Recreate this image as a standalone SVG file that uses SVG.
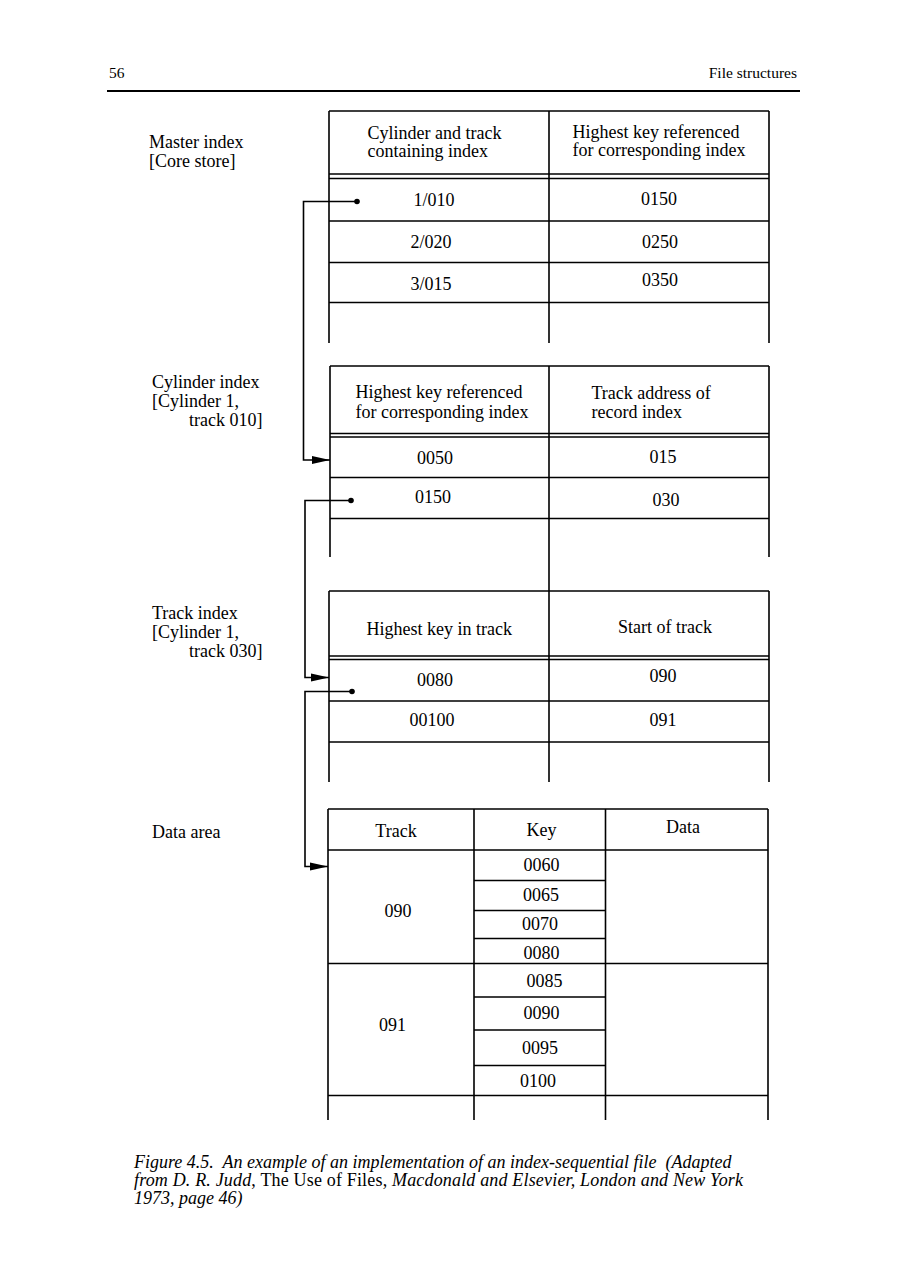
<svg xmlns="http://www.w3.org/2000/svg" width="910" height="1287" viewBox="0 0 910 1287">
<style>
text { font-family: "Liberation Serif", "Times New Roman", serif; fill: #000; }
.t { font-size: 18px; }
.c { font-size: 18px; text-anchor: middle; }
.hd { font-size: 15.5px; }
.cap { font-size: 18px; font-style: italic; }
.rm { font-style: normal; }
.ln { stroke: #000; stroke-width: 1.6; fill: none; }
.conn { stroke: #000; stroke-width: 1.6; fill: none; }
.dot { fill: #000; }
</style>
<defs>
<marker id="arr" markerWidth="18" markerHeight="10" refX="18" refY="5" orient="auto" markerUnits="userSpaceOnUse">
<path d="M0,1 L18,5 L0,9 Z" fill="#000"/>
</marker>
</defs>
<rect width="910" height="1287" fill="#fff"/>

<g id="page-header">
<text class="hd" x="109" y="78">56</text>
<text class="hd" x="797" y="78" text-anchor="end">File structures</text>
<line x1="107" y1="91" x2="800" y2="91" stroke="#000" stroke-width="1.8"/>
</g>

<g id="labels">
<text class="t" x="149" y="148">Master index</text>
<text class="t" x="149" y="167">[Core store]</text>
<text class="t" x="152" y="388">Cylinder index</text>
<text class="t" x="152" y="407">[Cylinder 1,</text>
<text class="t" x="189" y="426">track 010]</text>
<text class="t" x="152" y="619">Track index</text>
<text class="t" x="152" y="638">[Cylinder 1,</text>
<text class="t" x="189" y="657">track 030]</text>
<text class="t" x="152" y="838">Data area</text>
</g>

<g id="master-index">
<path class="ln" d="M329,111 H769 M329,111 V343 M549,111 V343 M769,111 V343 M329,174 H769 M329,178.5 H769 M329,221 H769 M329,262.5 H769 M329,302.5 H769"/>
<text class="t" x="367.5" y="139">Cylinder and track</text>
<text class="t" x="367.5" y="157">containing index</text>
<text class="t" x="572.5" y="138">Highest key referenced</text>
<text class="t" x="572.5" y="156">for corresponding index</text>
<text class="c" x="434" y="206">1/010</text>
<text class="c" x="659" y="205">0150</text>
<text class="c" x="431" y="248">2/020</text>
<text class="c" x="660" y="248">0250</text>
<text class="c" x="431" y="290">3/015</text>
<text class="c" x="660" y="286">0350</text>
</g>

<g id="cylinder-index">
<path class="ln" d="M330,366 H769 M330,366 V557 M769,366 V557 M549,366 V591 M330,433.5 H769 M330,437 H769 M330,477.5 H769 M330,518.5 H769"/>
<text class="t" x="355.5" y="398">Highest key referenced</text>
<text class="t" x="355.5" y="417.5">for corresponding index</text>
<text class="t" x="591.5" y="399">Track address of</text>
<text class="t" x="591.5" y="418">record index</text>
<text class="c" x="435" y="464">0050</text>
<text class="c" x="663" y="463">015</text>
<text class="c" x="433" y="503">0150</text>
<text class="c" x="666" y="506">030</text>
</g>

<g id="track-index">
<path class="ln" d="M329,591 H769 M329,591 V782 M549,591 V782 M769,591 V782 M329,656 H769 M329,659.5 H769 M329,701 H769 M329,742 H769"/>
<text class="t" x="366.5" y="635">Highest key in track</text>
<text class="t" x="618" y="633">Start of track</text>
<text class="c" x="435" y="686">0080</text>
<text class="c" x="663" y="682">090</text>
<text class="c" x="432" y="726">00100</text>
<text class="c" x="663" y="726">091</text>
</g>

<g id="data-area">
<path class="ln" d="M328,809 H768 M328,809 V1120 M474,809 V1120 M605.5,809 V1120 M768,809 V1120 M328,850 H768 M328,963.5 H768 M328,1095.5 H768 M474,880.5 H605.5 M474,910.5 H605.5 M474,938.5 H605.5 M474,997 H605.5 M474,1030 H605.5 M474,1065.5 H605.5"/>
<text class="c" x="396" y="837">Track</text>
<text class="c" x="541.5" y="836">Key</text>
<text class="c" x="683" y="833">Data</text>
<text class="c" x="398" y="917">090</text>
<text class="c" x="392.5" y="1031">091</text>
<text class="c" x="541.5" y="871">0060</text>
<text class="c" x="541" y="901">0065</text>
<text class="c" x="540" y="930">0070</text>
<text class="c" x="541.5" y="959">0080</text>
<text class="c" x="544.5" y="987">0085</text>
<text class="c" x="541.5" y="1019">0090</text>
<text class="c" x="540" y="1054">0095</text>
<text class="c" x="538" y="1087">0100</text>
</g>

<g id="connectors">
<path class="conn" d="M357,201.5 H303.5 V460 H330" marker-end="url(#arr)"/>
<circle class="dot" cx="357" cy="201.5" r="2.8"/>
<path class="conn" d="M351,500.5 H305 V677.5 H329" marker-end="url(#arr)"/>
<circle class="dot" cx="351" cy="500.5" r="2.8"/>
<path class="conn" d="M352,691.5 H305 V866.5 H328" marker-end="url(#arr)"/>
<circle class="dot" cx="352" cy="691.5" r="2.8"/>
</g>

<g id="caption">
<text class="cap" x="134" y="1168" xml:space="preserve">Figure 4.5.  An example of an implementation of an index-sequential file  (Adapted</text>
<text class="cap" x="134" y="1186" textLength="609" lengthAdjust="spacing" xml:space="preserve">from D. R. Judd<tspan class="rm">, The Use of Files, </tspan>Macdonald and Elsevier, London and New York</text>
<text class="cap" x="134" y="1204">1973, page 46)</text>
</g>
</svg>
